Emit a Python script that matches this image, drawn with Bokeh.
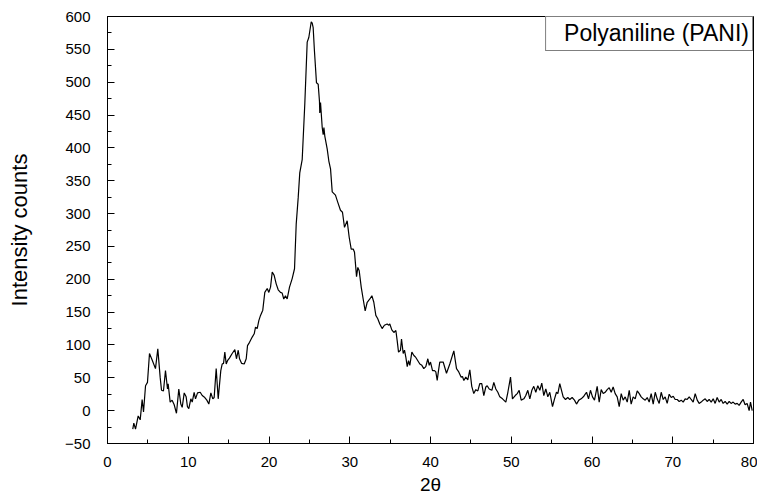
from bokeh.plotting import figure
from bokeh.models import Range1d, SingleIntervalTicker, Legend, LegendItem
from bokeh.embed import file_html
from bokeh.resources import INLINE

two_theta = [
    3.13, 3.26, 3.47, 3.80, 4.05, 4.29, 4.46, 4.71, 4.95, 5.20, 5.53, 5.94, 6.23, 6.52, 6.69, 6.93,
    7.18, 7.43, 7.51, 7.76, 8.00, 8.26, 8.54, 8.83, 9.08, 9.25, 9.50, 9.74, 9.90, 10.07, 10.32, 10.49,
    10.73, 10.90, 11.15, 11.48, 11.73, 12.05, 12.30, 12.55, 12.80, 13.04, 13.21, 13.46, 13.71, 14.03,
    14.20, 14.37, 14.53, 14.70, 14.86, 15.10, 15.44, 15.77, 15.97, 16.19, 16.35, 16.60, 16.93, 17.18,
    17.34, 17.59, 17.92, 18.17, 18.33, 18.54, 18.74, 18.95, 19.23, 19.48, 19.78, 19.98, 20.19, 20.40,
    20.64, 20.89, 21.14, 21.42, 21.63, 21.83, 22.04, 22.25, 22.54, 22.87, 23.16, 23.37, 23.62, 23.81,
    24.11, 24.43, 24.73, 24.93, 25.23, 25.35, 25.47, 25.63, 25.88, 26.09, 26.25, 26.29, 26.38, 26.59,
    26.71, 26.80, 26.91, 27.21, 27.41, 27.62, 27.83, 28.23, 28.52, 28.85, 29.10, 29.35, 29.68, 29.93,
    30.18, 30.43, 30.59, 30.84, 31.00, 31.17, 31.42, 31.66, 31.91, 32.16, 32.49, 32.74, 32.98, 33.23,
    33.47, 33.72, 34.01, 34.29, 34.63, 34.84, 34.96, 35.21, 35.46, 35.71, 35.87, 36.04, 36.28, 36.41,
    36.62, 36.78, 36.95, 37.12, 37.28, 37.44, 37.69, 37.94, 38.18, 38.43, 38.68, 38.93, 39.17, 39.42,
    39.67, 39.84, 40.00, 40.25, 40.50, 40.66, 40.83, 40.99, 41.15, 41.57, 41.98, 42.39, 42.89, 43.22,
    43.50, 43.80, 43.96, 44.13, 44.37, 44.62, 44.87, 45.11, 45.36, 45.61, 45.86, 46.10, 46.35, 46.60,
    46.85, 47.02, 47.27, 47.60, 47.84, 48.09, 48.34, 48.58, 48.92, 49.33, 49.58, 49.91, 50.15, 50.49,
    50.74, 50.98, 51.23, 51.56, 51.80, 52.05, 52.30, 52.55, 52.79, 53.04, 53.29, 53.54, 53.78, 54.03,
    54.28, 54.53, 54.77, 55.11, 55.36, 55.60, 55.77, 56.01, 56.43, 56.72, 57.00, 57.25, 57.54, 57.83,
    58.08, 58.37, 58.66, 58.99, 59.32, 59.57, 59.81, 60.06, 60.31, 60.64, 60.89, 61.14, 61.39, 61.63,
    61.88, 62.13, 62.38, 62.62, 62.87, 63.12, 63.37, 63.62, 63.86, 64.11, 64.36, 64.61, 64.85, 65.10,
    65.35, 65.60, 65.85, 66.09, 66.34, 66.59, 66.84, 67.08, 67.33, 67.58, 67.83, 68.07, 68.32, 68.57,
    68.82, 69.06, 69.31, 69.56, 69.81, 70.06, 70.30, 70.55, 70.80, 71.05, 71.29, 71.54, 71.79, 72.04,
    72.28, 72.53, 72.78, 73.03, 73.27, 73.52, 73.77, 74.02, 74.26, 74.51, 74.76, 75.01, 75.25, 75.50,
    75.75, 76.00, 76.24, 76.49, 76.74, 76.99, 77.23, 77.48, 77.73, 77.98, 78.22, 78.47, 78.72, 78.96,
    79.21, 79.46, 79.63, 79.84,
]

intensity = [
    -28, -19, -28, -8, -14, 17, -2, 38, 43, 87, 77, 64, 94, 51, 31, 30,
    61, 33, 41, 13, 16, 9, -4, 33, 10, 5, 27, 21, 6, 3, 18, 13,
    28, 18, 27, 28, 23, 20, 16, 10, 27, 18, 20, 64, 18, 61,
    71, 72, 89, 71, 76, 80, 87, 93, 79, 92, 79, 72, 71, 79,
    99, 104, 112, 117, 127, 125, 137, 145, 153, 180, 186, 180, 188, 211,
    206, 193, 184, 180, 179, 170, 175, 170, 188, 201, 216, 284, 325, 362,
    382, 466, 561, 568, 592, 590, 583, 547, 499, 497, 471, 453, 469, 431,
    420, 431, 418, 398, 380, 368, 333, 328, 317, 305, 302, 279, 289, 264,
    246, 246, 241, 204, 218, 213, 188, 170, 152, 165, 170, 175, 165, 145,
    140, 132, 125, 130, 132, 130, 132, 123, 119, 122, 107, 89, 92, 109,
    87, 92, 81, 67, 76, 69, 89, 84, 81, 76, 71, 69, 64, 67,
    79, 69, 74, 61, 61, 59, 46, 61, 74, 74, 57, 71, 91, 64,
    59, 51, 52, 46, 51, 47, 62, 37, 26, 32, 30, 41, 41, 23,
    36, 38, 33, 31, 43, 33, 28, 21, 18, 13, 28, 51, 18, 23,
    26, 31, 16, 18, 23, 31, 18, 31, 37, 28, 38, 31, 42, 23,
    33, 21, 28, 6, 18, 28, 26, 41, 21, 17, 20, 17, 20, 16,
    10, 16, 18, 22, 28, 18, 31, 21, 16, 37, 13, 32, 26, 28,
    32, 35, 28, 36, 26, 21, 6, 26, 16, 21, 13, 31, 10, 21,
    18, 30, 26, 21, 18, 16, 20, 13, 26, 10, 28, 18, 11, 28,
    17, 21, 11, 25, 20, 22, 17, 17, 14, 16, 13, 18, 17, 21,
    17, 13, 26, 16, 11, 13, 16, 18, 14, 17, 13, 18, 11, 20,
    13, 17, 11, 14, 10, 14, 11, 13, 10, 11, 8, 13, 17, 9,
    11, 0, 13, 0,
]

x_label = "2\u03b8"
y_label = "Intensity counts"
series_name = "Polyaniline (PANI)"

FONT = "Liberation Sans"

p = figure(width=757, height=497, output_backend="svg", toolbar_location=None,
           x_range=Range1d(0, 80), y_range=Range1d(-50, 600),
           min_border_left=107, min_border_right=4, min_border_top=16, min_border_bottom=54)

p.xgrid.visible = False
p.ygrid.visible = False
p.outline_line_color = "black"
p.outline_line_width = 1
p.background_fill_color = "white"
p.border_fill_color = "white"

r = p.line(two_theta, intensity, line_color="black", line_width=1.2)

p.xaxis.ticker = SingleIntervalTicker(interval=10, num_minor_ticks=2)
p.yaxis.ticker = SingleIntervalTicker(interval=50, num_minor_ticks=2)

for ax in (p.xaxis[0], p.yaxis[0]):
    ax.axis_line_color = "black"
    ax.axis_line_width = 1
    ax.major_tick_in = 7
    ax.major_tick_out = 0
    ax.minor_tick_in = 4
    ax.minor_tick_out = 0
    ax.major_tick_line_color = "black"
    ax.minor_tick_line_color = "black"
    ax.major_label_text_font = FONT
    ax.major_label_text_font_size = "15px"
    ax.major_label_text_color = "black"
    ax.axis_label_text_font = FONT
    ax.axis_label_text_font_style = "normal"
    ax.axis_label_text_color = "black"

p.xaxis.axis_label = x_label
p.xaxis.axis_label_text_font_size = "19px"
p.xaxis.major_label_standoff = 13
p.xaxis.axis_label_standoff = 4

p.yaxis.axis_label = y_label
p.yaxis.axis_label_text_font_size = "22px"
p.yaxis.major_label_standoff = 17
p.yaxis.axis_label_standoff = 30

legend = Legend(items=[LegendItem(label=series_name, renderers=[r])],
                location="top_right", margin=0, padding=3,
                glyph_width=0, glyph_height=20, label_height=20, label_standoff=15,
                label_text_font=FONT, label_text_font_size="23px", label_text_color="black",
                border_line_color="black", border_line_width=1,
                background_fill_color="white", background_fill_alpha=1)
p.add_layout(legend)

open("out.html", "w").write(file_html(p, INLINE))
